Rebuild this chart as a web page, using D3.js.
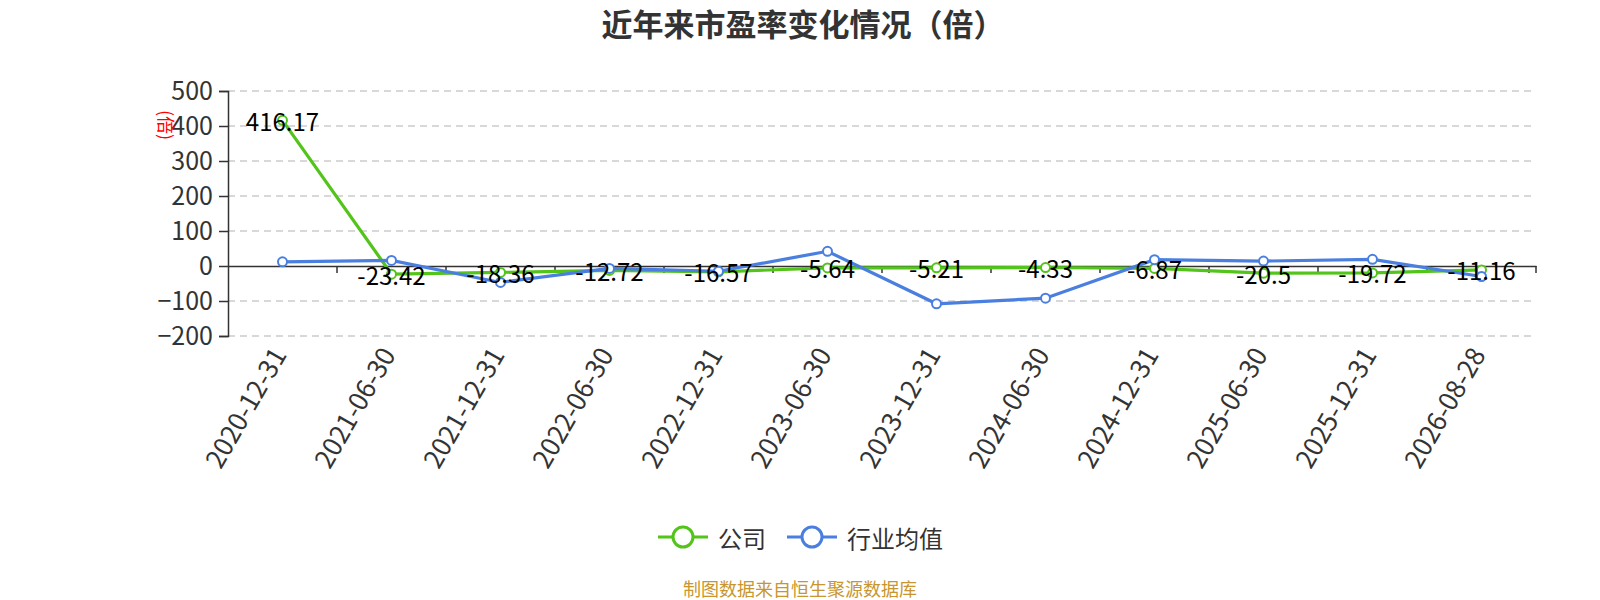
<!DOCTYPE html>
<html lang="zh">
<head>
<meta charset="utf-8">
<title>近年来市盈率变化情况</title>
<script src="https://cdn.jsdelivr.net/npm/d3@7"></script>
<style>
  body { margin: 0; background: #fff; }
  text { font-family: "Noto Sans CJK SC", "Noto Sans", sans-serif; }
</style>
</head>
<body>
<div id="chart"></div>
<script>
// data
var dates = ["2020-12-31","2021-06-30","2021-12-31","2022-06-30","2022-12-31","2023-06-30",
             "2023-12-31","2024-06-30","2024-12-31","2025-06-30","2025-12-31","2026-08-28"]
var company = [416.17,-23.42,-18.36,-12.72,-16.57,-5.64,-5.21,-4.33,-6.87,-20.5,-19.72,-11.16]
var industry = [12,16,-47,-7,-15,42,-108,-92,18,14,19,-30]
var yTicks = [-200,-100,0,100,200,300,400,500]

var W = 1600, H = 600
// plot box (note: "top" is taken by window.top, so m-prefixed names)
var mLeft = 228, mRight = 1536, mTop = 91, mBottom = 336
var green = "#52c41a", blue = "#4a7fe0"

var svg = d3.select("#chart").append("svg").attr("width", W).attr("height", H)

var x = d3.scaleBand().domain(dates).range([mLeft, mRight])
var y = d3.scaleLinear().domain([-200, 500]).range([mBottom, mTop])
var cx = function(d){ return x(d) + x.bandwidth()/2 }

// title
svg.append("text").text("近年来市盈率变化情况（倍）")
  .attr("x", 803).attr("y", 22).attr("text-anchor", "middle").attr("dominant-baseline", "central")
  .attr("font-size", 31).attr("font-weight", "bold").attr("fill", "#333")

// grid
svg.append("g").selectAll("line").data(yTicks.filter(function(t){ return t != 0 }))
  .enter().append("line")
  .attr("x1", mLeft).attr("x2", mRight)
  .attr("y1", function(d){ return y(d) }).attr("y2", function(d){ return y(d) })
  .attr("stroke", "#ccc").attr("stroke-dasharray", "7,5").attr("stroke-width", 1.5)

// y axis
var yAxis = d3.axisLeft(y).tickValues(yTicks).tickSize(9).tickPadding(6)
var gy = svg.append("g").attr("transform", "translate(" + mLeft + ",0)").call(yAxis)
gy.select(".domain").attr("stroke", "#333").attr("stroke-width", 1.5)
gy.selectAll(".tick line").attr("stroke", "#333").attr("stroke-width", 1.5)
gy.selectAll(".tick text").attr("font-size", 25).attr("fill", "#333")
  .style("font-family", "'Noto Sans CJK SC', sans-serif")

// unit label
svg.append("text").text("(倍)")
  .attr("transform", "translate(167,125) rotate(90)")
  .attr("text-anchor", "middle").attr("dominant-baseline", "central")
  .attr("font-size", 18).attr("fill", "red")

// x axis along zero
var xAxis = d3.axisBottom(x).tickSize(0).tickFormat("")
var gx = svg.append("g").attr("transform", "translate(0," + y(0) + ")").call(xAxis)
gx.select(".domain").attr("stroke", "#333").attr("stroke-width", 1.5)
svg.append("g").selectAll("line").data(dates)
  .enter().append("line")
  .attr("x1", function(d, i){ return mLeft + x.step()*(i+1) })
  .attr("x2", function(d, i){ return mLeft + x.step()*(i+1) })
  .attr("y1", y(0)).attr("y2", y(0) + 7)
  .attr("stroke", "#333").attr("stroke-width", 1.5)

// x labels, rotated under the plot
svg.append("g").selectAll("text").data(dates).enter().append("text")
  .text(function(d){ return d })
  .attr("transform", function(d){ return "translate(" + (cx(d) - 5) + "," + (mBottom + 13) + ") rotate(-60)" })
  .attr("text-anchor", "end").attr("dominant-baseline", "central")
  .attr("font-size", 26).attr("fill", "#333")

var line = d3.line().x(function(d, i){ return cx(dates[i]) }).y(function(d){ return y(d) })

function series(vals, color){
  svg.append("path").datum(vals).attr("d", line)
    .attr("fill", "none").attr("stroke", color).attr("stroke-width", 3.2)
  svg.append("g").selectAll("circle").data(vals).enter().append("circle")
    .attr("cx", function(d, i){ return cx(dates[i]) }).attr("cy", function(d){ return y(d) })
    .attr("r", 4.5).attr("fill", "#fff").attr("stroke", color).attr("stroke-width", 2)
}
series(company, green)
series(industry, blue)

// value labels of the company line
svg.append("g").selectAll("text").data(company).enter().append("text")
  .text(function(d){ return d })
  .attr("x", function(d, i){ return cx(dates[i]) })
  .attr("y", function(d){ return y(d) })
  .attr("text-anchor", "middle").attr("dominant-baseline", "central")
  .attr("font-size", 24).attr("fill", "#000")

// legend
var legend = [{name:"公司", color:green, x:658}, {name:"行业均值", color:blue, x:787}]
var lg = svg.append("g").selectAll("g").data(legend).enter().append("g")
  .attr("transform", function(d){ return "translate(" + d.x + ",537)" })
lg.append("line").attr("x1", 0).attr("x2", 50).attr("stroke", function(d){ return d.color }).attr("stroke-width", 3)
lg.append("circle").attr("cx", 25).attr("r", 10).attr("fill", "#fff")
  .attr("stroke", function(d){ return d.color }).attr("stroke-width", 3)
lg.append("text").text(function(d){ return d.name }).attr("x", 60).attr("dominant-baseline", "central")
  .attr("font-size", 24).attr("fill", "#333")

// source
svg.append("text").text("制图数据来自恒生聚源数据库")
  .attr("x", 800).attr("y", 588).attr("text-anchor", "middle").attr("dominant-baseline", "central")
  .attr("font-size", 18).attr("fill", "#c8962e")
</script>
</body>
</html>
